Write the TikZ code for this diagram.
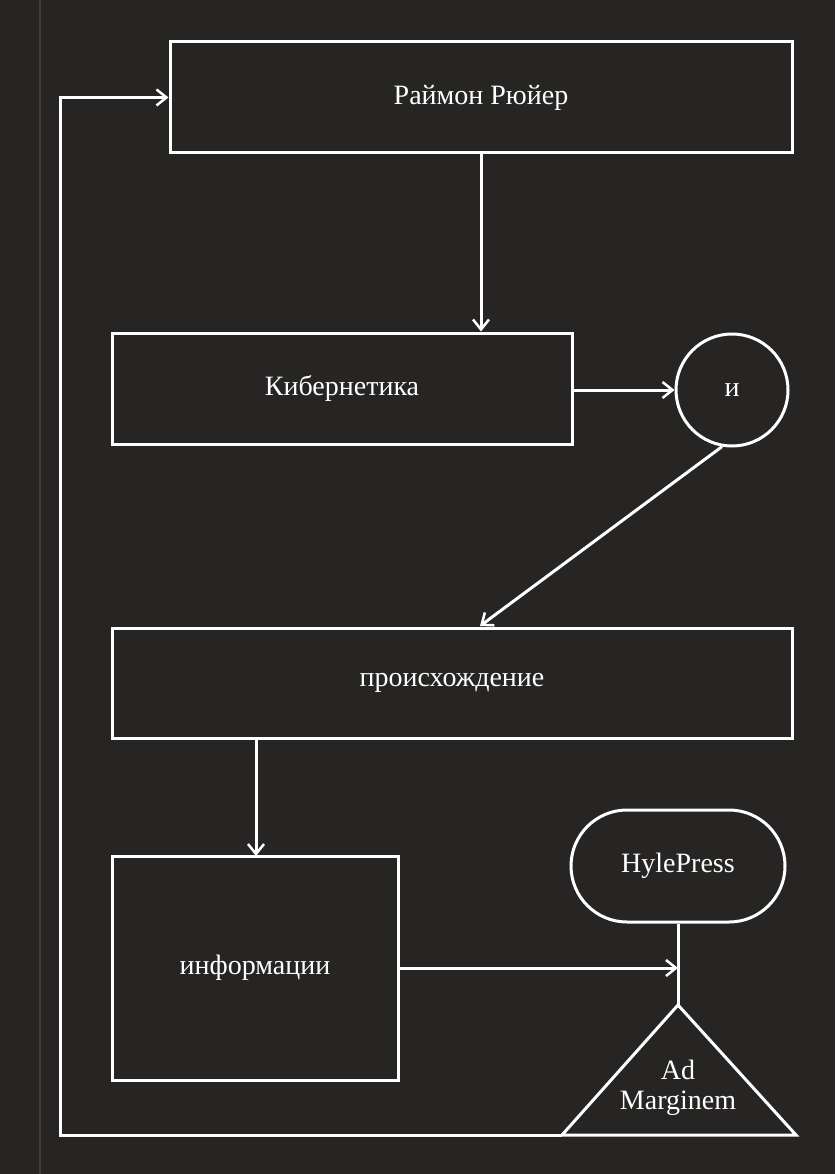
\documentclass[tikz,border=0pt]{standalone}
\usepackage{fontspec}
\setmainfont{Liberation Serif}
\usetikzlibrary{positioning,shapes.misc,arrows.meta}
\definecolor{cover}{HTML}{262524}

\tikzset{
  box/.style={draw=white,line width=3pt,text=white,font=\fontsize{28}{32}\selectfont},
  wire/.style={draw=white,line width=3pt},
  arr/.style={wire,-{Straight Barb[length=10pt,width=16pt,line width=2.5pt]}}
}

\begin{document}
\begin{tikzpicture}[x=1pt,y=-1pt]
  \fill[cover] (0,0) rectangle (835,1174);
  \useasboundingbox (0,0) rectangle (835,1174);
  \draw[white!12!cover,line width=1.5pt] (40,0) -- (40,1174);

  \node[box,minimum width=622pt,minimum height=111pt] (author) at (481,97.5) {Раймон Рюйер};
  \node[box,minimum width=460pt,minimum height=111pt] (cyber) at (342,388.5) {Кибернетика};
  \node[box,circle,minimum size=112pt,inner sep=0pt] (and) at (732,390) {и};
  \node[box,minimum width=680pt,minimum height=110pt] (origin) at (452,683) {происхождение};
  \node[box,minimum width=286pt,minimum height=224pt] (info) at (255,968) {информации};
  \node[box,rounded corners=56pt,minimum width=214pt,minimum height=112pt] (hyle) at (678,866) {HylePress};

  \coordinate (apex) at (678,1005);
  \coordinate (baseL) at (562,1135);
  \coordinate (baseR) at (796,1135);
  \draw[wire,line join=miter] (apex) -- (baseR) -- (baseL) -- cycle;
  \node[text=white,font=\fontsize{28}{30}\selectfont,align=center] (admarg) at (678,1088) {Ad\\Marginem};

  \coordinate (turnB) at (60,1135);
  \coordinate (turnT) at (60,97.5);
  \coordinate (infoT) at (256,856);
  \coordinate (infoB) at (256,738);

  \draw[arr] (author.south -| 481,0) -- (cyber.north -| 481,0);
  \draw[arr] (cyber.east |- and) -- (and.west);
  \draw[arr] (and.-100) -- (480,626);
  \draw[arr] (infoB) -- (infoT);
  \draw[arr] (info.east) -- (info.east -| apex);
  \draw[wire] (hyle.south) -- (apex);
  \draw[arr] (baseL) -- (turnB) -- (turnT) -- (author.west);
\end{tikzpicture}
\end{document}
